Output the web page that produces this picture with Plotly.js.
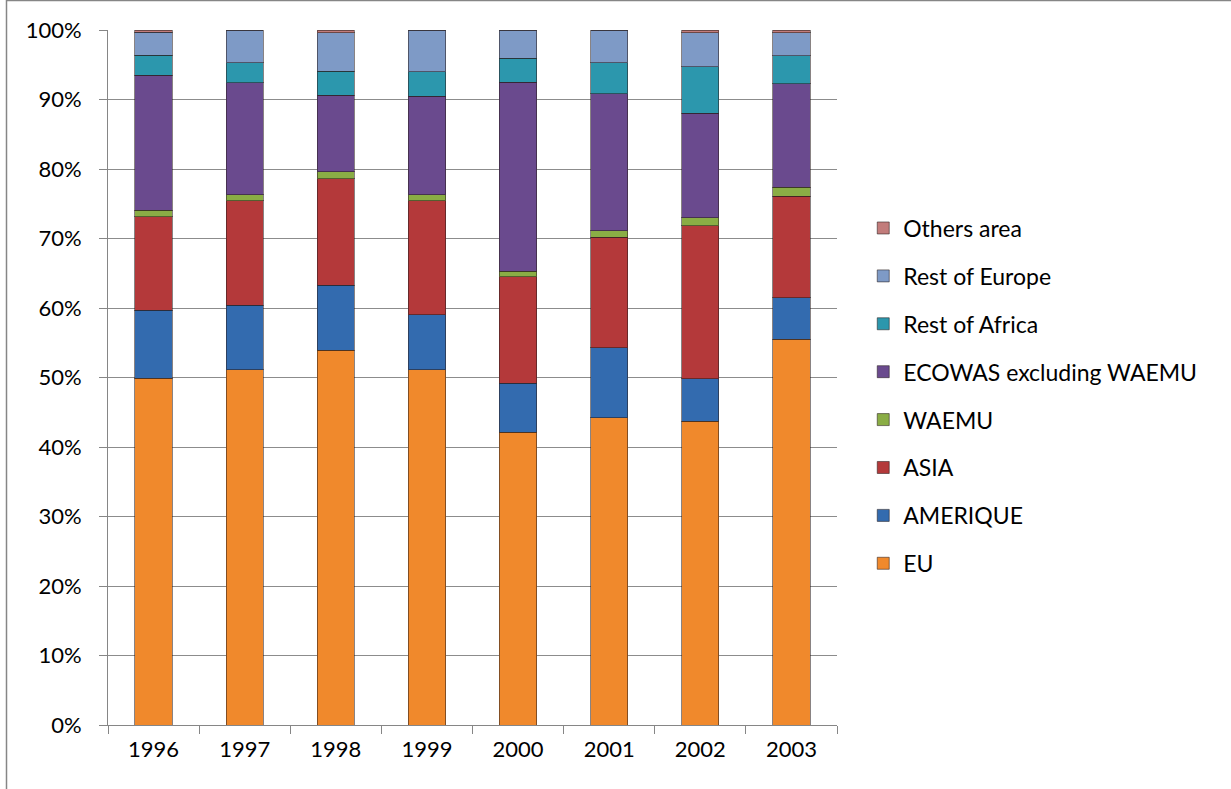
<!DOCTYPE html>
<html>
<head>
<meta charset="utf-8">
<script src="https://cdn.plot.ly/plotly-3.0.1.min.js"></script>
<style>html,body{margin:0;padding:0;background:#fff;}#chart{width:1231px;height:789px;}</style>
</head>
<body>
<div id="chart"></div>
<script>
const years = ['1996','1997','1998','1999','2000','2001','2002','2003'];
const seriesNames = ['EU','AMERIQUE','ASIA','WAEMU','ECOWAS excluding WAEMU','Rest of Africa','Rest of Europe','Others area'];
const EU       = [49.9, 51.1, 53.9, 51.1, 42.1, 44.2, 43.7, 55.5];
const AMERIQUE = [9.8, 9.3, 9.4, 7.9, 7.1, 10.1, 6.1, 6.0];
const ASIA     = [13.4, 15.0, 15.3, 16.4, 15.3, 15.9, 22.0, 14.6];
const WAEMU    = [1.0, 0.9, 1.0, 0.9, 0.8, 0.9, 1.2, 1.3];
const ECOWAS   = [19.4, 16.1, 11.0, 14.2, 27.2, 19.7, 15.0, 14.9];
const RestAfrica = [2.9, 2.9, 3.5, 3.5, 3.4, 4.5, 6.7, 4.0];
const RestEurope = [3.3, 4.7, 5.5, 6.0, 4.1, 4.7, 4.9, 3.3];
const Others   = [0.3, 0.0, 0.4, 0.0, 0.0, 0.0, 0.4, 0.4];
const yTicks = [0,10,20,30,40,50,60,70,80,90,100];

const values = [EU, AMERIQUE, ASIA, WAEMU, ECOWAS, RestAfrica, RestEurope, Others];
const colors = ['#F0892C','#336BAF','#B4393A','#8AAD45','#6A4A8E','#2C97AD','#7E9AC6','#C27C7B'];

const traces = seriesNames.map((n,i)=>({
  type:'bar', name:n, x:years, y:values[i],
  legendgroup:'g'+i, legendrank: 1000 - i,
  marker:{color:colors[i], line:{color:'rgba(40,30,30,0.55)', width:1}},
  hoverinfo:'name+y'
}));

const font = 'Lato, "Open Sans", "Liberation Sans", sans-serif';
const layout = {
  width:1231, height:789,
  margin:{l:108, r:394, t:30, b:64},
  paper_bgcolor:'#fff', plot_bgcolor:'#fff',
  barmode:'stack', barnorm:'percent', bargap:0.59,
  font:{family:font, size:20, color:'#000'},
  xaxis:{
    type:'category', showgrid:false, showline:true, linecolor:'#868686', linewidth:1,
    ticks:'outside', tickson:'boundaries', ticklen:8, tickcolor:'#868686',
    tickfont:{family:font, size:22}, ticklabelstandoff:5
  },
  yaxis:{
    range:[0,100], tickvals:yTicks, ticktext:yTicks.map(v=>v+'%'),
    showgrid:true, gridcolor:'#8c8c8c', gridwidth:1, zeroline:false,
    showline:true, linecolor:'#868686', linewidth:1,
    ticks:'outside', ticklen:8, tickcolor:'#868686',
    tickfont:{family:font, size:22}, ticklabelstandoff:13
  },
  legend:{
    traceorder:'grouped', tracegroupgap:15,
    x:1.036, xanchor:'left', y:0.746, yanchor:'top',
    font:{family:font, size:23}, bgcolor:'rgba(0,0,0,0)'
  },
  shapes:[{type:'rect', xref:'paper', yref:'paper',
    x0:(6.5-108)/729, x1:(1300-108)/729, y0:(725-900)/695, y1:(725-0.5)/695,
    line:{color:'#868686', width:1.5}, fillcolor:'rgba(0,0,0,0)', layer:'below'}]
};
Plotly.newPlot('chart', traces, layout, {displayModeBar:false, staticPlot:true});
</script>
</body>
</html>
